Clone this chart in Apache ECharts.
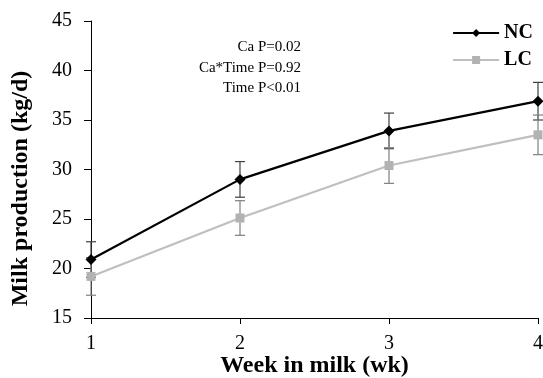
<!DOCTYPE html>
<html><head><meta charset="utf-8">
<script src="https://cdn.jsdelivr.net/npm/echarts@6/dist/echarts.min.js"></script>
<style>html,body{margin:0;padding:0;background:#fff}#c{width:543px;height:378px}</style>
</head><body><div id="c"></div>
<script>
const weeks = [1, 2, 3, 4];
const ncMean = [20.9, 29.0, 33.9, 36.9];
const ncSE = [1.8, 1.8, 1.8, 1.9];
const lcMean = [19.2, 25.1, 30.4, 33.5];
const lcSE = [1.9, 1.75, 1.8, 2.0];
const yTicks = [15, 20, 25, 30, 35, 40, 45];
const xTicks = [1, 2, 3, 4];
const stats = ['Ca P=0.02', 'Ca*Time P=0.92', 'Time P<0.01'];

const font = 'Liberation Serif, Times New Roman, serif';
function errData(mean, se){ return weeks.map((w,i)=>[w, mean[i]-se[i], mean[i]+se[i]]); }
function errSeries(mean, se, color){
  return {
    type:'custom', silent:true, z:1,
    renderItem:function(params, api){
      const x = api.value(0);
      const lo = api.coord([x, api.value(1)]);
      const hi = api.coord([x, api.value(2)]);
      const w = 5;
      const st = {stroke:color, lineWidth:1.2};
      return {type:'group', children:[
        {type:'line', shape:{x1:lo[0],y1:lo[1],x2:hi[0],y2:hi[1]}, style:st},
        {type:'line', shape:{x1:lo[0]-w,y1:lo[1],x2:lo[0]+w,y2:lo[1]}, style:st},
        {type:'line', shape:{x1:hi[0]-w,y1:hi[1],x2:hi[0]+w,y2:hi[1]}, style:st}
      ]};
    },
    data: errData(mean, se)
  };
}
const chart = echarts.init(document.getElementById('c'));
chart.setOption({
  animation:false,
  backgroundColor:'#fff',
  grid:{left:91, right:5, top:21, bottom:60, containLabel:false, outerBoundsMode:'none'},
  legend:{
    right:5, top:18, orient:'vertical', itemGap:7, itemWidth:46, itemHeight:10,
    textStyle:{fontFamily:font, fontSize:20, fontWeight:'bold', color:'#000'},
    data:[{name:'NC'},{name:'LC'}]
  },
  xAxis:{
    type:'value', min:1, max:4, interval:1,
    name:'Week in milk (wk)', nameLocation:'middle', nameGap:36, nameMoveOverlap:false,
    nameTextStyle:{fontFamily:font, fontSize:24, fontWeight:'bold', color:'#000'},
    axisLine:{lineStyle:{color:'#000', width:1}},
    axisTick:{show:true, length:6, lineStyle:{color:'#000'}},
    axisLabel:{fontFamily:font, fontSize:20, color:'#000', margin:16},
    splitLine:{show:false}
  },
  yAxis:{
    type:'value', min:15, max:45, interval:5,
    name:'Milk production (kg/d)', nameLocation:'middle', nameGap:58, nameMoveOverlap:false,
    nameTextStyle:{fontFamily:font, fontSize:24, fontWeight:'bold', color:'#000', padding:[0,38,0,0]},
    axisLine:{show:true, lineStyle:{color:'#000', width:1}},
    axisTick:{show:true, length:7, lineStyle:{color:'#000'}},
    axisLabel:{fontFamily:font, fontSize:20, color:'#000', margin:19},
    splitLine:{show:false}
  },
  graphic:[{
    type:'text', right:242, top:37,
    style:{text:stats.join('\n'), font:'15px '+font, fill:'#000', textAlign:'right', lineHeight:20.5}
  }],
  series:[
    errSeries(ncMean, ncSE, '#404040'),
    errSeries(lcMean, lcSE, '#7f7f7f'),
    {name:'LC', type:'line', z:3, data:weeks.map((w,i)=>[w, lcMean[i]]),
      symbol:'rect', symbolSize:9, itemStyle:{color:'#b2b2b2'}, lineStyle:{color:'#bfbfbf', width:2.2}},
    {name:'NC', type:'line', z:4, data:weeks.map((w,i)=>[w, ncMean[i]]),
      symbol:'diamond', symbolSize:11, itemStyle:{color:'#000'}, lineStyle:{color:'#000', width:2.2}}
  ]
});
</script></body></html>
